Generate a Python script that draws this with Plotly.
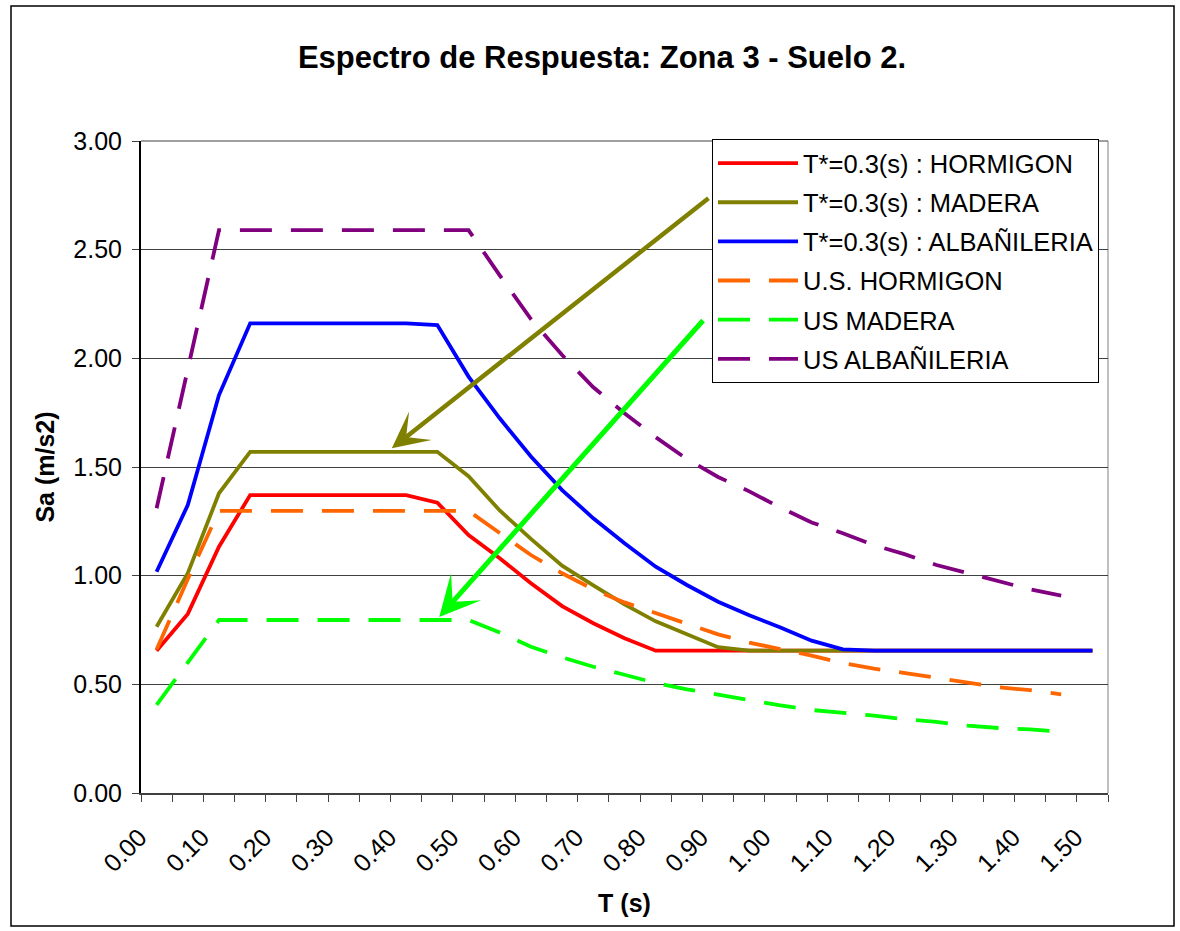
import plotly.graph_objects as go

# ---- data ----
T = [round(0.05 * i, 2) for i in range(31)]  # category axis 0.00 .. 1.50
tick_labels = ["0.00", "0.10", "0.20", "0.30", "0.40", "0.50", "0.60", "0.70",
               "0.80", "0.90", "1.00", "1.10", "1.20", "1.30", "1.40", "1.50"]
tick_positions = [0.0, 0.1, 0.2, 0.3, 0.4, 0.5, 0.6, 0.7, 0.8, 0.9, 1.0, 1.1, 1.2, 1.3, 1.4, 1.5]

hormigon = [0.655, 0.824, 1.133, 1.371, 1.371, 1.371, 1.371, 1.371, 1.371, 1.336,
            1.187, 1.080, 0.965, 0.860, 0.781, 0.712, 0.655, 0.655, 0.655, 0.655,
            0.655, 0.655, 0.655, 0.655, 0.655, 0.655, 0.655, 0.655, 0.655, 0.655, 0.655]
madera = [0.765, 1.011, 1.379, 1.570, 1.570, 1.570, 1.570, 1.570, 1.570, 1.570,
          1.458, 1.300, 1.169, 1.046, 0.955, 0.868, 0.790, 0.729, 0.671, 0.655,
          0.655, 0.655, 0.655, 0.655, 0.655, 0.655, 0.655, 0.655, 0.655, 0.655, 0.655]
albanileria = [1.018, 1.325, 1.831, 2.161, 2.161, 2.161, 2.161, 2.161, 2.161, 2.153,
               1.916, 1.724, 1.548, 1.394, 1.264, 1.149, 1.041, 0.957, 0.880, 0.818,
               0.762, 0.701, 0.661, 0.655, 0.655, 0.655, 0.655, 0.655, 0.655, 0.655, 0.655]
us_hormigon = [0.660, 0.985, 1.298, 1.298, 1.298, 1.298, 1.298, 1.298, 1.298, 1.298,
               1.298, 1.196, 1.095, 1.011, 0.937, 0.877, 0.827, 0.776, 0.730, 0.692,
               0.663, 0.632, 0.598, 0.572, 0.552, 0.531, 0.509, 0.486, 0.473, 0.454, None]
us_madera = [0.405, 0.600, 0.796, 0.796, 0.796, 0.796, 0.796, 0.796, 0.796, 0.796,
             0.796, 0.738, 0.673, 0.624, 0.581, 0.544, 0.506, 0.477, 0.451, 0.427,
             0.403, 0.382, 0.370, 0.356, 0.339, 0.327, 0.310, 0.299, 0.293, 0.281, None]
us_albanileria = [1.310, 1.960, 2.590, 2.590, 2.590, 2.590, 2.590, 2.590, 2.590, 2.590,
                  2.590, 2.382, 2.181, 2.015, 1.867, 1.747, 1.637, 1.537, 1.454, 1.388,
                  1.313, 1.245, 1.195, 1.140, 1.098, 1.049, 1.011, 0.975, 0.937, 0.908, None]

series_names = ["T*=0.3(s) : HORMIGON", "T*=0.3(s) : MADERA", "T*=0.3(s) : ALBAÑILERIA",
                "U.S. HORMIGON", "US MADERA", "US ALBAÑILERIA"]
series_values = [hormigon, madera, albanileria, us_hormigon, us_madera, us_albanileria]
series_colors = ["#FF0000", "#808000", "#0000FF", "#FF6600", "#00FF00", "#800080"]
series_dash = ["solid", "solid", "solid", "32px,19px", "32px,19px", "32px,19px"]

# arrow annotations (head, tail) in data units
arrow_olive = dict(head=(0.377, 1.586), tail=(0.887, 2.742))
arrow_green = dict(head=(0.453, 0.810), tail=(0.878, 2.181))

FONT = "Liberation Sans, Arial, sans-serif"

fig = go.Figure()
for i, (name, vals, col, dash) in enumerate(zip(series_names, series_values, series_colors, series_dash)):
    fig.add_trace(go.Scatter(
        x=T, y=vals, mode="lines", name=name, legendgroup=f"g{i}",
        line=dict(color=col, width=3.8, dash=dash), connectgaps=False,
        hoverinfo="x+y+name"))

W, H = 1180, 931
L, R, TOP, B = 141, 72, 141, 138
pw, ph = W - L - R, H - TOP - B


def px2paper(px, py):
    return (px - L) / pw, (H - B - py) / ph


shapes = []
# outer chart border
x0, y1 = px2paper(11, 6)
x1, y0 = px2paper(1174, 926)
shapes.append(dict(type="rect", xref="paper", yref="paper", x0=x0, y0=y0, x1=x1, y1=y1,
                   line=dict(color="black", width=1.5), fillcolor="rgba(0,0,0,0)", layer="below"))
# right plot-area border and top gridline (3.00)
shapes.append(dict(type="line", xref="paper", yref="paper", x0=1, x1=1, y0=0, y1=1,
                   line=dict(color="#808080", width=1), layer="below"))
shapes.append(dict(type="line", xref="paper", yref="paper", x0=0, x1=1, y0=1, y1=1,
                   line=dict(color="#404040", width=1), layer="below"))

annotations = []
for arr, col, w in [(arrow_olive, "#808000", 4.5), (arrow_green, "#00FF00", 5)]:
    annotations.append(dict(
        x=arr["head"][0], y=arr["head"][1], ax=arr["tail"][0], ay=arr["tail"][1],
        xref="x", yref="y", axref="x", ayref="y", text="", showarrow=True,
        arrowhead=3, arrowsize=1.35, arrowwidth=w, arrowcolor=col,
        standoff=0, startstandoff=0))

fig.update_layout(
    width=W, height=H, autosize=False,
    margin=dict(l=L, r=R, t=TOP, b=B, pad=0),
    paper_bgcolor="white", plot_bgcolor="white",
    font=dict(family=FONT, size=25, color="black"),
    title=dict(text="Espectro de Respuesta: Zona 3 - Suelo 2.",
               font=dict(family=FONT, size=31, weight="bold", color="black"),
               x=(602 - L) / pw, xanchor="center", xref="paper", y=1 - 57 / H, yanchor="middle"),
    showlegend=True,
    legend=dict(x=px2paper(712, 0)[0], y=px2paper(0, 139)[1], xanchor="left", yanchor="top",
                bgcolor="white", bordercolor="black", borderwidth=1,
                font=dict(family=FONT, size=25.5, color="black"),
                tracegroupgap=3, traceorder="grouped", itemwidth=80),
    xaxis=dict(range=[-0.025, 1.525], tickmode="array", tickvals=tick_positions, ticktext=tick_labels,
               tickangle=-45, ticks="", showgrid=False, zeroline=False,
               showline=True, linecolor="#404040", linewidth=1.5,
               tickfont=dict(family=FONT, size=25), ticklabelshift=-17, ticklabelstandoff=18,
               minor=dict(tickmode="linear", tick0=-0.025, dtick=0.05, ticks="outside",
                          ticklen=7, tickcolor="#404040", tickwidth=1, showgrid=False),
               title=dict(text="T (s)", font=dict(family=FONT, size=25, weight="bold"), standoff=18)),
    yaxis=dict(range=[0, 3], tickmode="linear", tick0=0, dtick=0.5, tickformat=".2f",
               ticks="outside", ticklen=7, tickcolor="#404040", tickwidth=1,
               showgrid=True, gridcolor="#404040", gridwidth=1, zeroline=False,
               showline=True, linecolor="black", linewidth=2,
               tickfont=dict(family=FONT, size=25), ticklabelstandoff=5,
               title=dict(text="Sa (m/s2)", font=dict(family=FONT, size=25, weight="bold"), standoff=12)),
    shapes=shapes, annotations=annotations,
)

fig.write_html("out.html", config={"displayModeBar": False},
               post_script="document.body.style.margin='0';document.body.style.overflow='hidden';")
